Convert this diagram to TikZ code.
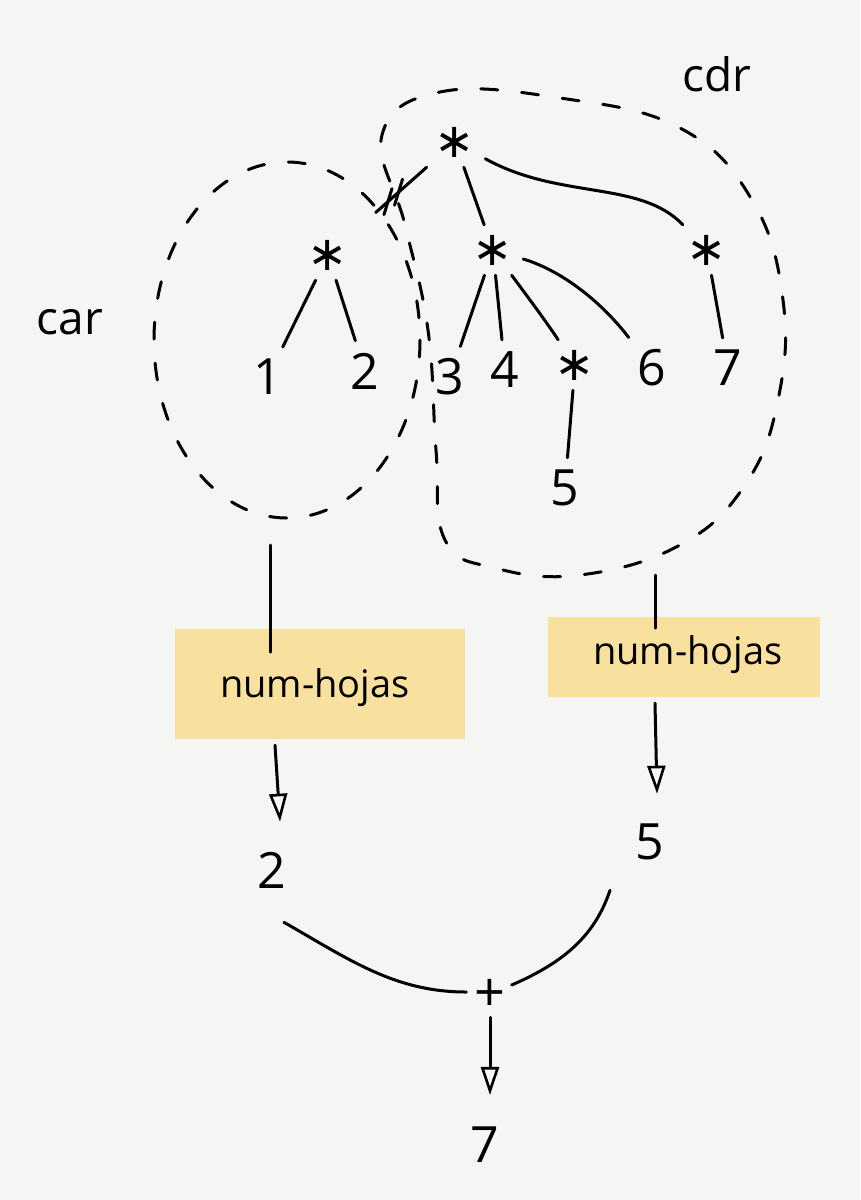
\documentclass[tikz,border=0pt]{standalone}
\usepackage{fontspec}
\setmainfont{Open Sans}
\newfontfamily\symfont{DejaVu Sans}
\usetikzlibrary{arrows.meta,calc}
\definecolor{paper}{RGB}{245,245,243}
\definecolor{hl}{RGB}{248,224,158}
\begin{document}
\begin{tikzpicture}[x=1pt,y=-1pt,
  ink/.style={line width=3pt, line cap=round},
  circ/.style={ink, dash pattern=on 17pt off 24pt},
  num/.style={font=\fontsize{50}{50}\selectfont, inner sep=12pt},
  op/.style={font=\symfont\fontsize{48}{48}\selectfont, inner sep=10pt},
  lbl/.style={font=\fontsize{46}{46}\selectfont, inner sep=2pt},
  fn/.style={font=\fontsize{38}{38}\selectfont, fill=hl, inner sep=0pt},
  arr/.style={ink, -{Triangle[open, length=28pt, width=18pt, line width=2.6pt]}},
]
\fill[paper] (0,0) rectangle (860,1200);
\useasboundingbox (0,0) rectangle (860,1200);

% labels
\node[lbl] (car) at (70,322) {car};
\node[lbl] (cdr) at (717,74) {cdr};

% dashed groups
\draw[circ] (287,340) ellipse [x radius=133, y radius=178];
\draw[circ] plot[smooth cycle, tension=0.7] coordinates {(382,135) (440,92) (560,98) (680,128) (752,200) (783,300) (778,400) (745,485) (680,545) (580,575) (495,568) (445,540) (436,450) (428,330) (405,225)};

% tree nodes
\node[op] (r) at (455,142) {∗};
\node[op] (a) at (328,255) {∗};
\node[op] (b) at (493,250) {∗};
\node[op] (c) at (707,250) {∗};
\node[num] (l1) at (268,377) {1};
\node[num] (l2) at (365,371) {2};
\node[num] (l3) at (450,377) {3};
\node[num] (l4) at (505,370) {4};
\node[op] (lx) at (575,365) {∗};
\node[num] (l6) at (652,368) {6};
\node[num] (l7) at (728,368) {7};
\node[num] (l5) at (565,488) {5};

% tree edges
\draw[ink, shorten >=26pt] (r) -- (a) coordinate[pos=0.4] (t1) coordinate[pos=0.55] (t2);
\draw[ink] ($(t1)+(4,-13)$) -- ($(t1)+(-4,13)$);
\draw[ink] ($(t2)+(4,-13)$) -- ($(t2)+(-4,13)$);
\draw[ink] (r) -- (b);
\draw[ink] (r) .. controls (560,200) and (640,180) .. (c);
\draw[ink] (a) -- (l1);
\draw[ink] (a) -- (l2);
\draw[ink] (b) -- (l3);
\draw[ink] (b) -- (l4);
\draw[ink] (b) .. controls (530,300) and (545,320) .. (lx);
\draw[ink] (b) .. controls (560,270) and (600,300) .. (l6);
\draw[ink] (c) -- (l7);
\draw[ink] (lx) -- (l5);

% function boxes
\node[fn, minimum width=290, minimum height=110] (f1) at (320,684) {};
\node[fn, minimum width=272, minimum height=80] (f2) at (684,657) {};

\coordinate (carbot) at (270,545);
\coordinate (cdrbot) at (655,575);
\draw[ink] (carbot) -- (carbot |- 0,652);
\draw[ink] (cdrbot) -- (cdrbot |- 0,628);
\node[fn, fill=none] at ($(f1)+(-5,4)$) {num-hojas};
\node[fn, fill=none] at ($(f2)+(4,-2)$) {num-hojas};

% results
\node[num] (n2) at (272,870) {2};
\node[num] (n5) at (650,842) {5};
\node[font=\fontsize{54}{54}\selectfont, inner sep=6pt] (plus) at (490,995) {+};
\node[num] (n7) at (485,1145) {7};

\draw[arr] ($(f1.south -| n2)+(3,6)$) -- ($(n2.north)+(8,-18)$);
\draw[arr] ($(f2.south -| n5)+(5,6)$) -- ($(n5.north)+(7,-18)$);
\draw[ink] ($(n2.south)+(12,22)$) .. controls (350,960) and (395,992) .. ($(plus.west)+(-2,-3)$);
\draw[ink] ($(n5.south)+(-40,18)$) .. controls (595,935) and (565,962) .. ($(plus.east)+(0,-10)$);
\draw[arr] (plus) -- ($(n7.north)+(5,-20)$);
\end{tikzpicture}
\end{document}
